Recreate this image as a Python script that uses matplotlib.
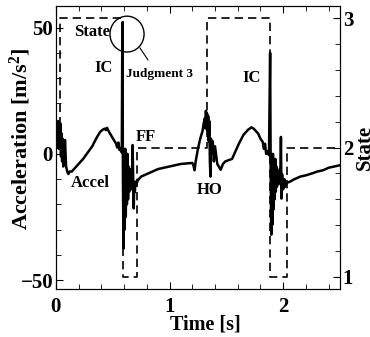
import matplotlib
matplotlib.use("Agg")
import matplotlib.pyplot as plt
from matplotlib.patches import Ellipse
from matplotlib.ticker import MultipleLocator

# ---- data ----
time_s = [0.0, 0.01, 0.015, 0.02, 0.025, 0.03, 0.035, 0.04, 0.045, 0.05, 0.055, 0.06, 0.065, 0.07,
          0.075, 0.08, 0.09, 0.1, 0.11, 0.12,
          0.14, 0.16, 0.2, 0.24, 0.28, 0.32, 0.36, 0.39, 0.41, 0.43, 0.44, 0.45, 0.47, 0.49, 0.51,
          0.53, 0.54, 0.55, 0.56, 0.57, 0.58,
          0.585, 0.59, 0.595, 0.6, 0.605, 0.61, 0.615, 0.62, 0.625, 0.63, 0.635, 0.64, 0.645, 0.65,
          0.655, 0.66, 0.665, 0.67, 0.675, 0.68, 0.685, 0.69, 0.695, 0.70, 0.71, 0.72,
          0.75, 0.8, 0.85, 0.9, 0.95, 1.0, 1.05, 1.1, 1.15, 1.2, 1.21, 1.22, 1.23, 1.25, 1.27, 1.29,
          1.30, 1.31, 1.315, 1.32, 1.325, 1.33, 1.335, 1.34, 1.345, 1.35, 1.355, 1.36, 1.365, 1.37,
          1.38, 1.39, 1.40, 1.42, 1.45, 1.47, 1.49, 1.52, 1.55, 1.58, 1.61, 1.65, 1.69, 1.72, 1.74,
          1.76, 1.78, 1.80, 1.82, 1.83, 1.84, 1.85, 1.86, 1.875,
          1.885, 1.89, 1.895, 1.9, 1.905, 1.91, 1.915, 1.92, 1.925, 1.93, 1.935, 1.94, 1.945, 1.95,
          1.96, 1.97, 1.975, 1.98, 1.985, 1.99, 2.0, 2.01, 2.02, 2.03, 2.06, 2.1, 2.15, 2.2, 2.25,
          2.3, 2.35, 2.4, 2.45, 2.5]
accel = [6, 12, 4, 13, 2, 10, 5, 12, -1, 8, -3, 6, -5, 3,
         -4, 5.5, -5, -7, -8, -7,
         -7, -6, -4, -2, 0.5, 3, 6.5, 8.7, 9.5, 10, 9.4, 10.3, 8.5, 7, 5.5,
         4, 2.5, 4.5, 1.5, 2, 0.5,
         52, -10, -37.5, -5, -30, 2, -25, -8, -20, 0, -18, -5, -15, -8,
         -12, -6, -14, -8, 3.5, -10, -21.6, -12, -15, -11, -12, -10.5,
         -9, -8, -7, -6, -5.5, -5, -4.5, -4, -3.8, -3.6, -4.5, -6.5, -3, 2, 6, 9,
         12, 14, 10, 17, 11, 16, 9, 15, 5, 13, -3, -9, 6, 0,
         5, -3, 3, -4, -6.3, -4, -3, -2.5, -2, 1, 4, 7.5, 9.5, 10.5, 10,
         9, 8, 6, 4.7, 2, 4, 0, 1, -0.5,
         40, -8, -32, -3, -28, 0, -22, -5, -18, -2, -15, -5, -13, -7,
         -12, -6, -10, 6.7, -17.7, -8, -14, -10, -13, -11.5, -11, -10, -9, -8.5, -7.8,
         -7, -6.5, -5.5, -5, -4.5]

state_time = [0.0, 0.035, 0.59, 0.71, 1.33, 1.885, 2.03, 2.5]
state_value = [2, 3, 1, 2, 3, 1, 2, 2]

xticks = [0, 1, 2]
accel_ticks = [-50, 0, 50]
state_ticks = [1, 2, 3]

# ---- style ----
plt.rcParams['font.family'] = ['Liberation Serif', 'DejaVu Serif']
plt.rcParams['font.weight'] = 'bold'
plt.rcParams['axes.labelweight'] = 'bold'
plt.rcParams['mathtext.fontset'] = 'custom'
plt.rcParams['mathtext.rm'] = 'Liberation Serif:bold'
plt.rcParams['mathtext.bf'] = 'Liberation Serif:bold'
plt.rcParams['mathtext.it'] = 'Liberation Serif:bold:italic'

fig = plt.figure(figsize=(3.7, 3.37), dpi=100)
ax = fig.add_axes([0.151, 0.1424, 0.768, 0.8396])
ax2 = ax.twinx()

ax.plot(time_s, accel, color='black', lw=1.8, zorder=3)
ax2.plot(state_time, state_value, color='black', lw=1.2, drawstyle='steps-post',
         linestyle=(0, (5, 3)))

ax.set_xlim(0, 2.5)
ax.set_ylim(-53.5, 58.5)
ax2.set_ylim(0.906, 3.094)

ax.set_xticks(xticks)
ax.set_yticks(accel_ticks)
ax2.set_yticks(state_ticks)
ax.xaxis.set_minor_locator(MultipleLocator(0.2))
ax.yaxis.set_minor_locator(MultipleLocator(10))
ax2.yaxis.set_minor_locator(MultipleLocator(0.2))

ax.tick_params(axis='both', which='both', direction='in', top=True, right=False,
               labelsize=15)
ax.tick_params(axis='x', which='both', pad=6)
ax.tick_params(axis='y', which='both', pad=2)
ax.tick_params(which='major', length=5)
ax.tick_params(which='minor', length=3.5)
ax2.tick_params(axis='y', which='both', direction='in', labelsize=15, pad=2)
ax2.tick_params(which='major', length=5)
ax2.tick_params(which='minor', length=3.5)
for a in (ax, ax2):
    for lab in a.get_xticklabels() + a.get_yticklabels():
        lab.set_fontweight('bold')

ax.set_xlabel('Time [s]', fontsize=14.5)
ax.xaxis.set_label_coords(0.526, -0.09)
ax.set_ylabel(r'Acceleration [m/s$^{2}$]', fontsize=16)
ax.yaxis.set_label_coords(-0.08, 0.53)
ax2.set_ylabel('State', fontsize=15, labelpad=1)

txt = dict(fontsize=12, fontweight='bold', ha='center', va='center')
ax.text(0.317, 48.2, 'State', **txt)
ax.text(0.423, 34, 'IC', **txt)
ax.text(1.718, 30, 'IC', **txt)
ax.text(0.793, 6.7, 'FF', **txt)
ax.text(0.30, -11.5, 'Accel', **txt)
ax.text(1.357, -14.2, 'HO', **txt)
ax.text(0.62, 31.6, 'Judgment 3', fontsize=9.5, fontweight='bold', ha='left', va='center')

ax.add_patch(Ellipse((0.626, 47.4), 0.30, 14.2, fill=False, edgecolor='black', lw=1.0, zorder=4))
ax.plot([0.74, 0.81], [41.9, 37.2], color='black', lw=0.8)

fig.savefig('out.png', dpi=100)
